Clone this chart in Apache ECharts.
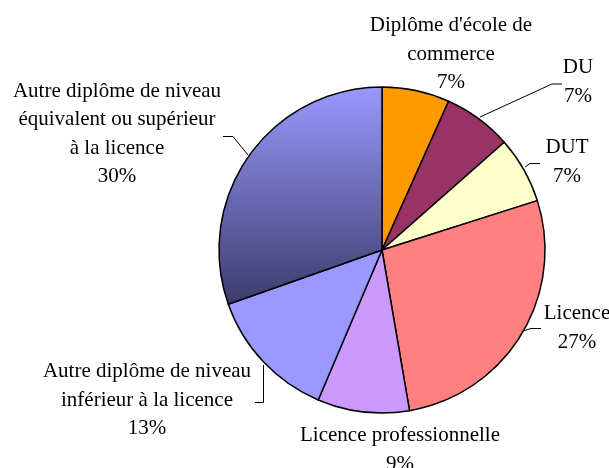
<!DOCTYPE html>
<html>
<head>
<meta charset="utf-8">
<script src="https://cdn.jsdelivr.net/npm/echarts@6/dist/echarts.min.js"></script>
<style>html,body{margin:0;padding:0;background:#fff;}#c{width:609px;height:468px;}</style>
</head>
<body>
<div id="c"></div>
<script>
// Data
var categories = [
  "Diplôme d'école de\ncommerce",
  "DU",
  "DUT",
  "Licence",
  "Licence professionnelle",
  "Autre diplôme de niveau\ninférieur à la licence",
  "Autre diplôme de niveau\néquivalent ou supérieur\nà la licence"
];
var values = [6.7, 6.8, 6.6, 27.2, 9.1, 13.2, 30.4];

// Styles / layout (not data)
var colors = ['#FF9900', '#993366', '#FFFFCC', '#FF8080', '#CC99FF', '#9999FF', null];
var labelPos = [[451, 54], [578, 82], [567, 162], [577, 328], [400, 450], [147, 400], [117, 134]];
var linePts = [
  null,
  [[480, 117], [552, 84], [562, 84]],
  [[525, 167], [530, 163.5], [540, 163.5]],
  [[523, 331], [531, 328.5], [541, 328.5]],
  null,
  [[263.5, 365], [263.5, 402.5], [255, 402.5]],
  [[248, 155], [233, 136.5], [223, 136.5]]
];

var chart = echarts.init(document.getElementById('c'));
var data = categories.map(function (n, i) {
  var c = colors[i] || new echarts.graphic.LinearGradient(0, 0, 0, 1, [
    { offset: 0, color: '#9999FF' },
    { offset: 1, color: '#3B3B6B' }
  ]);
  return {
    name: n,
    value: values[i],
    itemStyle: { color: c },
    labelLine: { show: !!linePts[i] }
  };
});

chart.setOption({
  animation: false,
  series: [{
    type: 'pie',
    center: [382, 250],
    radius: 163,
    startAngle: 90,
    clockwise: true,
    avoidLabelOverlap: false,
    percentPrecision: 0,
    itemStyle: { borderColor: '#000', borderWidth: 1.5 },
    label: {
      show: true,
      position: 'outside',
      formatter: '{b}\n{d}%',
      fontFamily: 'Liberation Serif',
      fontSize: 21,
      lineHeight: 28.5,
      color: '#000',
      align: 'center'
    },
    labelLine: { show: true, lineStyle: { color: '#000', width: 1 } },
    labelLayout: function (p) {
      var i = p.dataIndex;
      var r = {
        x: labelPos[i][0],
        y: labelPos[i][1],
        align: 'center',
        verticalAlign: 'middle'
      };
      if (linePts[i]) r.labelLinePoints = linePts[i];
      return r;
    },
    emphasis: { disabled: true },
    data: data
  }]
});
</script>
</body>
</html>
